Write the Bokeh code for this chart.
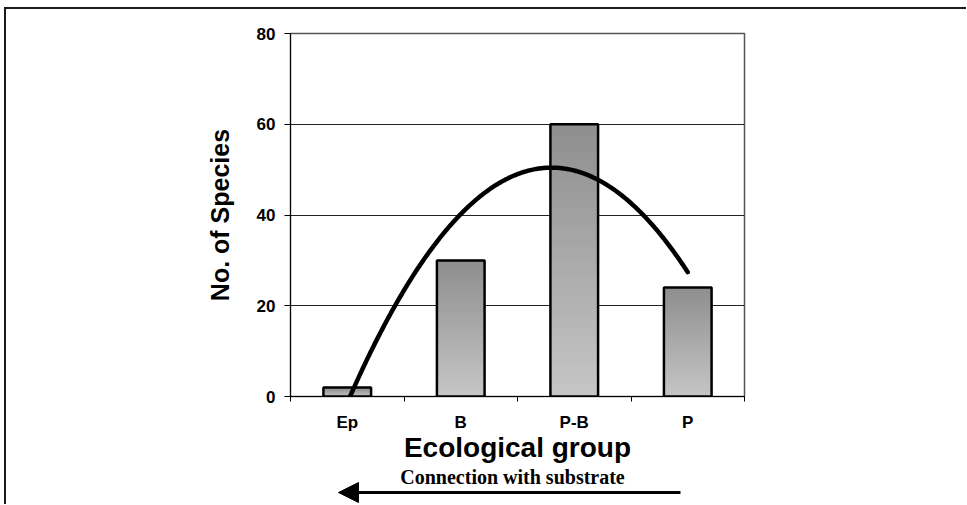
import numpy as np
from bokeh.plotting import figure
from bokeh.layouts import column
from bokeh.models import Range1d, FixedTicker, Arrow, NormalHead
from bokeh.core.properties import value
from bokeh.embed import file_html
from bokeh.resources import INLINE

# ---- data ----
categories = ["Ep", "B", "P-B", "P"]
species = [2, 30, 60, 24]
y_ticks = [0, 20, 40, 60, 80]
x_title = "Ecological group"
y_title = "No. of Species"
note = "Connection with substrate"

x = np.arange(1, len(categories) + 1)
xr = Range1d(0.5, len(categories) + 0.5)

W = 960
LEFT, RIGHT = 284, 222
H1, H2 = 456, 39

p = figure(width=W, height=H1, output_backend="svg", toolbar_location=None,
           x_range=xr, y_range=Range1d(0, 80),
           min_border_left=LEFT, min_border_right=RIGHT, min_border_top=24,
           min_border_bottom=H1 - 24 - 364, background_fill_color="white",
           border_fill_color="white")

# gradient bars (dark at top, light at bottom)
n = 40
light, dark = 0xc6, 0x8e
bx, bb, bt, bc = [], [], [], []
for xi, v in zip(x, species):
    edges = np.linspace(0, v, n + 1)
    for k in range(n):
        f = (k + 0.5) / n
        g = int(round(light + (dark - light) * f))
        bx.append(float(xi)); bb.append(edges[k]); bt.append(edges[k + 1])
        bc.append("#%02x%02x%02x" % (g, g, g))
p.vbar(x=bx, bottom=bb, top=bt, width=0.42, fill_color=bc, line_color=bc, line_width=1)
p.vbar(x=x, top=species, width=0.42, fill_color=None, line_color="black", line_width=2.5)

# quadratic trend line
coef = np.polyfit(x, species, 2)
xs = np.linspace(1, len(categories), 300)
p.line(xs, np.polyval(coef, xs), line_width=4.5, color="black", line_cap="round")

# axes
font = "Liberation Sans"
p.xaxis.ticker = FixedTicker(ticks=[float(v) for v in x],
                             minor_ticks=[float(v) - 0.5 for v in x] + [len(x) + 0.5])
p.xaxis.major_label_overrides = {float(v): c for v, c in zip(x, categories)}
p.xaxis.major_tick_out = 0
p.xaxis.major_tick_in = 0
p.xaxis.minor_tick_out = 5
p.xaxis.minor_tick_in = 0
p.xaxis.minor_tick_line_color = "black"
p.xaxis.axis_line_color = "black"
p.xaxis.major_label_text_font = font
p.xaxis.major_label_text_font_style = "bold"
p.xaxis.major_label_text_font_size = "17px"
p.xaxis.major_label_text_color = "black"
p.xaxis.major_label_standoff = 11
p.xaxis.axis_label = x_title
p.xaxis.axis_label_text_font = font
p.xaxis.axis_label_text_font_style = "bold"
p.xaxis.axis_label_text_font_size = "28px"
p.xaxis.axis_label_text_color = "black"
p.xaxis.axis_label_standoff = -3

p.yaxis.ticker = FixedTicker(ticks=y_ticks, minor_ticks=[])
p.yaxis.major_tick_out = 6
p.yaxis.major_tick_in = 0
p.yaxis.major_tick_line_color = "black"
p.yaxis.axis_line_color = "black"
p.yaxis.major_label_text_font = font
p.yaxis.major_label_text_font_style = "bold"
p.yaxis.major_label_text_font_size = "17px"
p.yaxis.major_label_text_color = "black"
p.yaxis.major_label_standoff = 9
p.yaxis.axis_label = y_title
p.yaxis.axis_label_text_font = font
p.yaxis.axis_label_text_font_style = "bold"
p.yaxis.axis_label_text_font_size = "25px"
p.yaxis.axis_label_text_color = "black"
p.yaxis.axis_label_standoff = 20

p.xgrid.visible = False
p.ygrid.grid_line_color = "#222222"
p.ygrid.grid_line_width = 1
p.outline_line_color = "#555555"
p.outline_line_width = 1.5

# strip below: connection with substrate (y measured in px from top of strip)
p2 = figure(width=W, height=H2, output_backend="svg", toolbar_location=None,
            x_range=xr, y_range=Range1d(H2, 0),
            min_border_left=LEFT, min_border_right=RIGHT, min_border_top=0,
            min_border_bottom=0, x_axis_location=None, y_axis_location=None,
            background_fill_color="white", border_fill_color="white")
p2.outline_line_color = None
p2.grid.visible = False
p2.text(x=[2.456], y=[11], text=[note], text_align="center",
        text_baseline="alphabetic", text_font=value("Liberation Serif"),
        text_font_style="bold", text_font_size="20px", text_color="black")
p2.add_layout(Arrow(x_start=3.936, y_start=27, x_end=0.923, y_end=27,
                    line_width=3, line_color="black",
                    end=NormalHead(size=20, fill_color="black", line_color="black")))

layout = column(p, p2, spacing=0,
                styles={"margin-left": "4px", "margin-top": "7px",
                        "border-top": "2px solid #1a1a1a",
                        "border-left": "2px solid #1a1a1a"})

open("out.html", "w").write(file_html(layout, INLINE))
